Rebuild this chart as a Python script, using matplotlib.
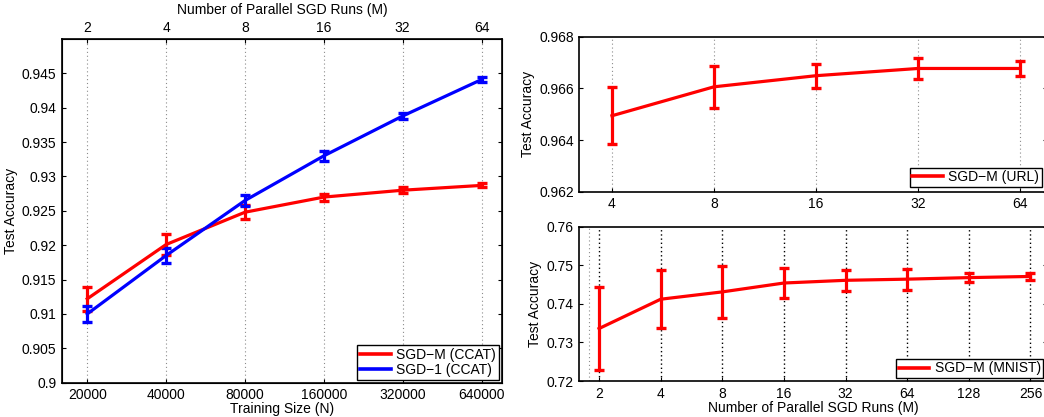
import matplotlib
matplotlib.use("Agg")
import matplotlib.pyplot as plt
from matplotlib.lines import Line2D

plt.rcParams["font.family"] = ["Liberation Sans", "DejaVu Sans"]
plt.rcParams["font.size"] = 10
plt.rcParams["axes.unicode_minus"] = True

RED = "#FF0000"
BLUE = "#0000FF"
GRID_GRAY = "#8c8c8c"

# ---- CCAT: test accuracy vs training size ----
ccat_n = [20000, 40000, 80000, 160000, 320000, 640000]
ccat_m = [2, 4, 8, 16, 32, 64]
ccat_sgdm = [0.9122, 0.9201, 0.9248, 0.9270, 0.9280, 0.9287]
ccat_sgdm_err = [0.0017, 0.0015, 0.0010, 0.0005, 0.0004, 0.0003]
ccat_sgd1 = [0.9100, 0.9185, 0.9265, 0.9330, 0.9388, 0.9441]
ccat_sgd1_err = [0.0011, 0.0011, 0.0008, 0.0007, 0.0005, 0.0004]
ccat_yticks = [0.9, 0.905, 0.91, 0.915, 0.92, 0.925, 0.93, 0.935, 0.94, 0.945]
ccat_ylabels = ["0.9", "0.905", "0.91", "0.915", "0.92", "0.925", "0.93", "0.935", "0.94", "0.945"]

# ---- URL ----
url_m = [4, 8, 16, 32, 64]
url_acc = [0.96494, 0.96606, 0.96649, 0.96677, 0.96677]
url_err = [0.00110, 0.00082, 0.00047, 0.00042, 0.00029]
url_yticks = [0.962, 0.964, 0.966, 0.968]

# ---- MNIST ----
mnist_m = [2, 4, 8, 16, 32, 64, 128, 256]
mnist_acc = [0.7336, 0.7412, 0.7431, 0.7454, 0.7461, 0.7464, 0.7468, 0.7471]
mnist_err = [0.0107, 0.0075, 0.0068, 0.0038, 0.0027, 0.0027, 0.0011, 0.0010]
mnist_yticks = [0.72, 0.73, 0.74, 0.75, 0.76]


def log_limits(vals):
    return vals[0] * 2 ** -0.32, vals[-1] * 2 ** 0.26


def style_axes(ax):
    ax.tick_params(direction="in", length=3, width=0.8, top=False, right=True, pad=4)
    for s in ax.spines.values():
        s.set_linewidth(1.2)


def draw_series(ax, x, y, err, color, label):
    ax.errorbar(x, y, yerr=err, color=color, lw=2.3, elinewidth=2.3,
                capsize=3.6, capthick=2.4, zorder=3)
    return Line2D([0], [0], color=color, lw=2.6, label=label)


fig = plt.figure(figsize=(10.44, 4.17), dpi=100)

# ===== left panel =====
ax1 = fig.add_axes([0.0594, 0.0823, 0.4215, 0.8242])
h1 = draw_series(ax1, ccat_n, ccat_sgdm, ccat_sgdm_err, RED, "SGD\u2212M (CCAT)")
h2 = draw_series(ax1, ccat_n, ccat_sgd1, ccat_sgd1_err, BLUE, "SGD\u22121 (CCAT)")
ax1.set_xscale("log", base=2)
ax1.set_xlim(*log_limits(ccat_n))
ax1.set_ylim(0.9, 0.95)
ax1.set_xticks(ccat_n)
ax1.set_xticklabels([str(v) for v in ccat_n])
ax1.minorticks_off()
ax1.set_yticks(ccat_yticks)
ax1.set_yticklabels(ccat_ylabels)
ax1.grid(axis="x", linestyle=(0, (1, 2.5)), color=GRID_GRAY, lw=0.8)
style_axes(ax1)
ax1.set_xlabel("Training Size (N)", labelpad=0)
ax1.set_ylabel("Test Accuracy", labelpad=3)
leg = ax1.legend(handles=[h1, h2], loc="lower right", fancybox=False, framealpha=1,
                 edgecolor="black", handlelength=2.2, handletextpad=0.4,
                 borderpad=0.22, labelspacing=0.05, borderaxespad=0.22)
leg.get_frame().set_linewidth(1.0)

ax1t = ax1.twiny()
ax1t.set_xscale("log", base=2)
ax1t.set_xlim(ax1.get_xlim())
ax1t.set_xticks(ccat_n)
ax1t.set_xticklabels([str(v) for v in ccat_m])
ax1t.minorticks_off()
ax1t.tick_params(direction="in", length=3, width=0.8, pad=3)
ax1t.set_xlabel("Number of Parallel SGD Runs (M)", labelpad=5)

# ===== top-right panel =====
ax2 = fig.add_axes([0.5549, 0.5403, 0.4475, 0.3717])
h3 = draw_series(ax2, url_m, url_acc, url_err, RED, "SGD\u2212M (URL)")
ax2.set_xscale("log", base=2)
ax2.set_xlim(*log_limits(url_m))
ax2.set_ylim(0.962, 0.968)
ax2.set_xticks(url_m)
ax2.set_xticklabels([str(v) for v in url_m])
ax2.minorticks_off()
ax2.set_yticks(url_yticks)
ax2.set_yticklabels([f"{v:.3f}" for v in url_yticks])
ax2.grid(axis="x", linestyle=(0, (1, 2.5)), color=GRID_GRAY, lw=0.8)
style_axes(ax2)
ax2.set_ylabel("Test Accuracy", labelpad=3)
leg = ax2.legend(handles=[h3], loc="lower right", fancybox=False, framealpha=1,
                 edgecolor="black", handlelength=2.2, handletextpad=0.4,
                 borderpad=0.18, borderaxespad=0.35)
leg.get_frame().set_linewidth(1.0)

# ===== bottom-right panel =====
ax3 = fig.add_axes([0.5549, 0.0863, 0.4475, 0.3701])
h4 = draw_series(ax3, mnist_m, mnist_acc, mnist_err, RED, "SGD\u2212M (MNIST)")
ax3.set_xscale("log", base=2)
ax3.set_xlim(*log_limits(mnist_m))
ax3.set_ylim(0.72, 0.76)
ax3.set_xticks(mnist_m)
ax3.set_xticklabels([str(v) for v in mnist_m])
ax3.set_xticks([1.79], minor=True)
ax3.tick_params(axis="x", which="minor", length=0)
ax3.set_yticks(mnist_yticks)
ax3.set_yticklabels([f"{v:.2f}" for v in mnist_yticks])
ax3.grid(axis="x", which="major", linestyle=(0, (1, 2)), color="black", lw=1.0)
ax3.grid(axis="x", which="minor", linestyle=(0, (1, 2.5)), color=GRID_GRAY, lw=0.8)
style_axes(ax3)
ax3.set_xlabel("Number of Parallel SGD Runs (M)", labelpad=0)
ax3.set_ylabel("Test Accuracy", labelpad=3)
leg = ax3.legend(handles=[h4], loc="lower right", fancybox=False, framealpha=1,
                 edgecolor="black", handlelength=2.2, handletextpad=0.4,
                 borderpad=0.18, borderaxespad=0.22)
leg.get_frame().set_linewidth(1.0)

fig.savefig("out.png", dpi=100, facecolor="white")
